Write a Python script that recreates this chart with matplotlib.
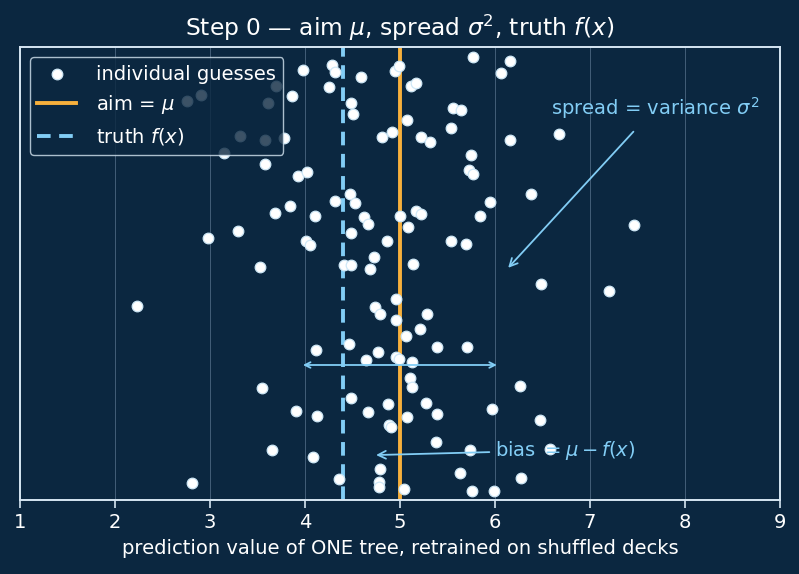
import matplotlib
matplotlib.use("Agg")
import matplotlib.pyplot as plt
import numpy as np

# guesses of one tree (x = prediction, y = vertical jitter only)
guess_x = [3.98, 4.29, 4.32, 4.59, 4.95, 4.99, 3.70, 4.25, 2.91, 2.76,
           3.86, 3.61, 4.49, 4.51, 3.32, 3.58, 3.78, 4.81, 4.92, 3.15,
           3.58, 3.93, 4.02, 4.47, 4.32, 4.53, 3.84, 3.68, 4.11, 4.62,
           4.66, 5.00, 3.30, 2.98, 4.01, 4.05, 4.49, 4.86, 4.73, 3.53,
           4.41, 4.49, 4.69, 5.77, 6.16, 6.06, 5.12, 5.17, 5.56, 5.64,
           5.07, 5.54, 5.22, 5.32, 6.16, 6.67, 5.75, 5.73, 5.77, 6.38,
           5.95, 5.84, 5.17, 5.22, 5.09, 7.46, 5.54, 5.70, 5.14, 2.23,
           4.96, 4.74, 4.79, 4.96, 4.46, 4.12, 4.77, 4.64, 4.96, 4.99,
           3.55, 4.49, 4.87, 3.91, 4.13, 4.66, 4.89, 4.91, 3.65, 4.08,
           4.79, 2.81, 4.36, 4.78, 4.78, 6.49, 7.20, 5.29, 5.21, 5.06,
           5.39, 5.71, 5.13, 5.11, 5.13, 6.26, 5.28, 5.39, 5.97, 5.08,
           6.47, 5.38, 5.74, 6.58, 5.63, 6.28, 5.04, 5.76, 5.99]
guess_y = [0.950, 0.961, 0.946, 0.935, 0.948, 0.958, 0.914, 0.912, 0.895, 0.881,
           0.891, 0.876, 0.876, 0.852, 0.804, 0.794, 0.799, 0.801, 0.812, 0.766,
           0.742, 0.715, 0.724, 0.676, 0.660, 0.655, 0.649, 0.633, 0.627, 0.625,
           0.609, 0.627, 0.594, 0.578, 0.572, 0.563, 0.589, 0.572, 0.536, 0.514,
           0.519, 0.519, 0.511, 0.977, 0.969, 0.943, 0.913, 0.920, 0.865, 0.861,
           0.838, 0.821, 0.801, 0.790, 0.795, 0.809, 0.761, 0.729, 0.719, 0.675,
           0.658, 0.627, 0.637, 0.631, 0.602, 0.607, 0.571, 0.565, 0.521, 0.429,
           0.444, 0.426, 0.410, 0.397, 0.344, 0.331, 0.327, 0.309, 0.315, 0.311,
           0.247, 0.225, 0.211, 0.196, 0.185, 0.195, 0.166, 0.161, 0.110, 0.094,
           0.068, 0.037, 0.046, 0.039, 0.029, 0.476, 0.462, 0.410, 0.377, 0.361,
           0.337, 0.337, 0.305, 0.269, 0.249, 0.251, 0.214, 0.189, 0.200, 0.183,
           0.177, 0.127, 0.110, 0.112, 0.060, 0.048, 0.024, 0.019, 0.019]

mu = 5.0
truth = 4.4
sigma = 1.05

bg = "#0b2740"
fg = "#d6e6f2"
blue = "#82cdf5"
orange = "#f7b03c"

fig = plt.figure(figsize=(7.99, 5.74), dpi=100, facecolor=bg)
ax = fig.add_axes([0.025, 0.129, 0.951, 0.789], facecolor=bg)

ax.grid(axis="x", color="#5b7590", lw=0.7, alpha=0.7)
ax.set_axisbelow(True)

ax.scatter(guess_x, guess_y, s=58, color="white", edgecolor="#cfe8f7",
           linewidth=0.9, zorder=3, label="individual guesses")
ax.axvline(mu, color=orange, lw=2.8, zorder=2, label=r"aim = $\mu$")
ax.axvline(truth, color=blue, lw=2.8, ls=(0, (3.5, 2.2)), zorder=2,
           label=r"truth $f(x)$")

# spread arrow
ax.annotate("", xy=(mu - sigma, 0.298), xytext=(mu + sigma, 0.298),
            arrowprops=dict(arrowstyle="<->", color=blue, lw=1.3), zorder=4)
ax.annotate(r"spread = variance $\sigma^2$", xy=(6.12, 0.508), xytext=(7.69, 0.866),
            ha="center", va="center", color=blue, fontsize=14,
            arrowprops=dict(arrowstyle="->", color=blue, lw=1.3, shrinkA=8),
            zorder=4)
ax.annotate(r"bias $= \mu - f(x)$", xy=(4.72, 0.099), xytext=(6.0, 0.110),
            ha="left", va="center", color=blue, fontsize=14,
            arrowprops=dict(arrowstyle="->", color=blue, lw=1.3), zorder=4)

ax.set_xlim(1, 9)
ax.set_ylim(0, 1)
ax.set_yticks([])
ax.set_xticks(np.arange(1, 10))
ax.tick_params(axis="x", colors=fg, labelcolor="white", labelsize=14, length=6,
               width=1.2)
for s in ax.spines.values():
    s.set_color(fg)
    s.set_linewidth(1.4)

ax.set_xlabel("prediction value of ONE tree, retrained on shuffled decks",
              color="white", fontsize=14, labelpad=5)
ax.set_title(r"Step 0 — aim $\mu$, spread $\sigma^2$, truth $f(x)$",
             color="white", fontsize=16.8, pad=8)

leg = ax.legend(loc="upper left", fontsize=14, facecolor=bg, edgecolor=fg,
                framealpha=0.8, labelcolor="white", handletextpad=1.0)
leg.set_zorder(5)

fig.savefig("out.png", dpi=100, facecolor=bg)
